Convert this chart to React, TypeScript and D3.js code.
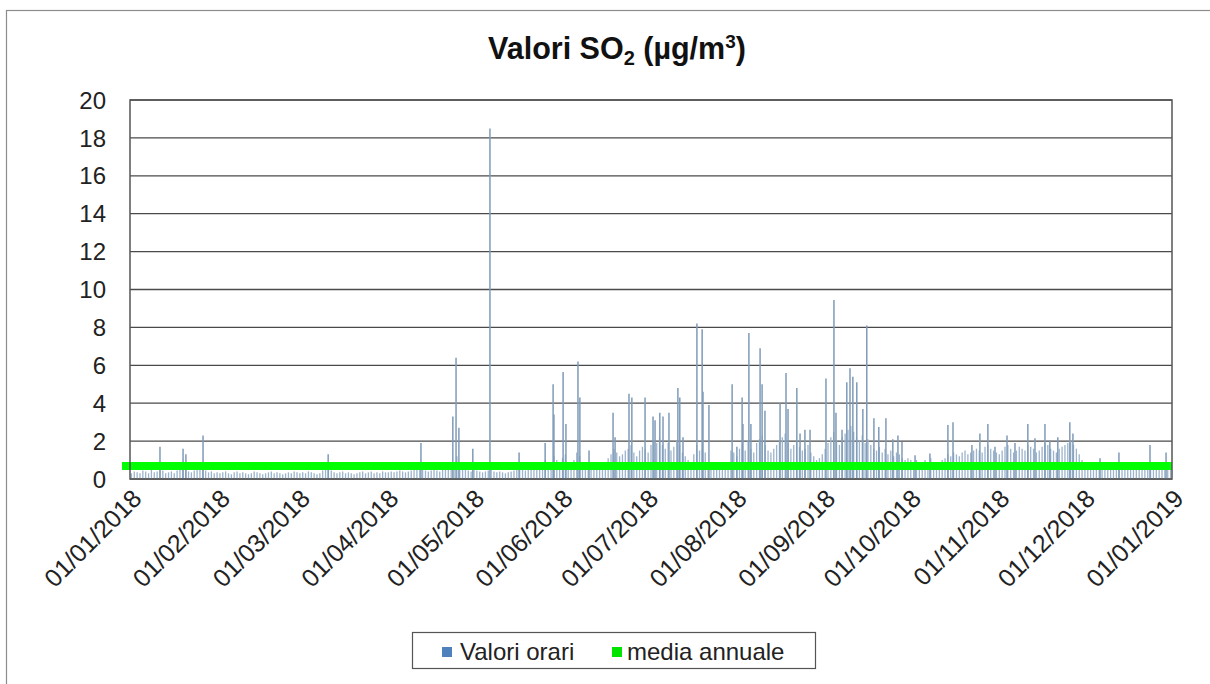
import React from "react";
import * as d3 from "d3";

// ---- data ----
const yTicks = [0, 2, 4, 6, 8, 10, 12, 14, 16, 18, 20];
const monthTicks = [
  "2018-01-01", "2018-02-01", "2018-03-01", "2018-04-01", "2018-05-01", "2018-06-01",
  "2018-07-01", "2018-08-01", "2018-09-01", "2018-10-01", "2018-11-01", "2018-12-01", "2019-01-01",
];
const annualMean = 0.68;

// typical daily level (µg/m³), one value per day
const jan = [0.3,0.4,0.35,0.3,0.45,0.4,0.3,0.5,0.35,0.4,0.6,0.45,0.3,0.35,0.4,0.3,0.45,0.5,0.7,0.55,0.4,0.35,0.45,0.6,0.5,0.7,0.45,0.35,0.4,0.3,0.35];
const feb = [0.3,0.35,0.4,0.3,0.25,0.35,0.4,0.3,0.35,0.3,0.25,0.3,0.4,0.35,0.3,0.25,0.3,0.35,0.4,0.3,0.35,0.3,0.25,0.3,0.35,0.3,0.4,0.35];
const mar = [0.3,0.35,0.3,0.4,0.35,0.3,0.25,0.3,0.45,0.5,0.6,0.45,0.35,0.3,0.35,0.4,0.3,0.35,0.3,0.25,0.3,0.35,0.4,0.3,0.35,0.4,0.3,0.35,0.3,0.4,0.35];
const apr = [0.35,0.4,0.35,0.4,0.45,0.4,0.35,0.4,0.45,0.5,0.6,0.8,0.5,0.45,0.4,0.45,0.5,0.45,0.4,0.5,0.55,0.6,0.7,0.9,1.2,0.8,0.6,0.5,0.45,0.4];
const may = [0.5,0.45,0.4,0.35,0.4,0.45,0.5,0.4,0.35,0.4,0.35,0.3,0.35,0.4,0.45,0.5,0.6,0.5,0.45,0.5,0.55,0.6,0.7,0.8,0.9,1.0,0.8,0.9,1.2,1.0,0.9];
const jun = [1.1,1.3,0.9,0.8,1.0,1.4,1.2,0.9,0.8,0.9,0.7,0.6,0.6,0.7,0.8,0.9,1.1,1.3,1.6,1.4,1.2,1.3,1.5,1.6,1.8,1.4,1.2,1.5,1.7,1.6];
const jul = [1.4,1.8,2.0,1.9,2.2,1.8,1.6,1.9,1.5,1.7,2.0,1.8,1.4,1.2,1.0,0.9,1.3,1.8,1.5,1.6,1.4,0.8,0.7,0.6,0.7,0.8,0.7,0.6,0.9,1.5,1.4];
const aug = [1.2,1.6,1.8,1.5,2.0,1.6,1.4,1.9,2.1,2.3,1.8,1.5,1.4,1.6,1.8,2.0,2.2,2.4,1.9,1.6,1.8,2.0,1.7,1.5,1.6,1.8,1.4,1.2,1.0,1.1,1.3];
const sep = [1.6,1.9,2.2,2.5,2.0,1.8,2.2,2.4,2.6,2.8,2.5,2.2,2.0,2.3,1.9,2.1,1.8,1.6,1.5,1.7,1.4,1.6,1.3,1.5,1.2,1.4,1.3,1.1,1.0,1.1];
const oct = [1.0,0.9,1.0,0.8,0.9,1.0,0.85,1.1,0.9,0.8,0.9,1.0,1.1,1.3,1.2,1.4,1.3,1.2,1.4,1.5,1.3,1.4,1.5,1.6,1.5,1.4,1.7,1.8,1.6,1.5,1.4];
const nov = [1.3,1.5,1.7,1.8,1.6,1.4,1.5,1.7,1.6,1.5,1.8,1.7,1.6,1.4,1.5,1.7,1.9,1.8,1.6,1.5,1.4,1.6,1.7,1.8,1.9,2.0,1.8,1.6,1.3,1.0];
const dec = [0.8,0.9,0.7,0.8,0.9,0.8,0.75,0.8,0.9,0.85,0.8,0.7,0.9,0.8,0.85,0.8,0.7,0.75,0.8,0.9,0.8,0.85,0.8,0.9,0.75,0.8,0.85,0.8,0.9,0.8,0.85];
const months = [jan, feb, mar, apr, may, jun, jul, aug, sep, oct, nov, dec];

// hourly peaks: day of year (fractional) and value
const peakDay = [10.5,18.6,19.6,25.6,69.4,101.9,113.1,114.2,115.2,120.1,126.1,136.3,145.4,148.2,148.5,151.7,152.7,156.9,157.6,160.8,
  169.2,169.9,174.8,175.8,180.4,183.2,183.9,185.6,186.7,188.8,191.9,192.6,193.7,198.6,200.4,200.7,202.8,210.9,212.6,214.4,
  214.7,216.8,217.5,220.7,221.4,222.4,227.7,229.8,230.5,233.6,234.7,236.4,238.2,243.8,246.6,247.3,249.4,251.1,252.2,253.2,
  254.6,256.7,258.1,260.6,262.3,264.8,267.2,269.0,270.4,275.0,280.2,286.5,288.3,294.9,297.7,300.5,303.0,307.2,310.0,314.5,
  317.0,320.5,322.2,325.0,329.2,330.3,339.8,346.4,357.3,362.9];
const peakValue = [1.7,1.6,1.3,2.3,1.3,1.9,3.3,6.4,2.7,1.6,18.5,1.4,1.9,5.0,3.4,5.65,2.9,6.2,4.3,1.5,
  3.5,2.2,4.5,4.3,4.3,3.3,3.1,3.5,3.3,3.5,4.8,4.3,2.2,8.2,7.9,4.6,3.9,5.0,1.7,4.3,
  2.9,7.7,2.9,6.9,5.0,3.6,4.0,5.6,3.7,4.8,2.4,2.6,2.6,5.3,9.45,3.5,2.6,5.1,5.85,5.4,
  5.1,3.7,8.1,3.2,2.75,3.2,2.1,2.3,1.95,1.25,1.35,2.85,3.0,1.8,2.4,2.9,1.7,2.3,1.9,2.9,
  2.15,2.9,2.05,2.2,3.0,2.4,1.1,1.4,1.8,1.4];

const legendItems = ["Valori orari", "media annuale"];

export default function App() {
  const W = 1210, H = 684;
  const left = 130, right = 1172, top = 100, bottom = 479;
  const start = new Date(2018, 0, 1);
  const x = d3.scaleTime().domain([start, new Date(2019, 0, 1)]).range([left, right]);
  const y = d3.scaleLinear().domain([0, 20]).range([bottom, top]);
  const dayDate = (d: number) => d3.timeHour.offset(start, Math.round(d * 24));
  const fmt = d3.timeFormat("%d/%m/%Y");
  const parse = d3.timeParse("%Y-%m-%d");

  const daily: { d: number; v: number }[] = [];
  let dayIdx = 0;
  months.forEach((m) => m.forEach((v) => { daily.push({ d: dayIdx + 0.5, v }); dayIdx++; }));
  const peaks = peakDay.map((d, i) => ({ d, v: peakValue[i] }));

  const font = "'Liberation Sans', Arial, sans-serif";
  const barColor = "#9bb3cc";

  return (
    <svg width={W} height={H} style={{ position: "absolute", left: 0, top: 0, background: "#fff" }} fontFamily={font}>
      <rect x={0} y={0} width={W} height={H} fill="#fff" />
      <rect x={6.5} y={10.5} width={W + 20} height={H + 20} fill="#fff" stroke="#8c8c8c" strokeWidth={1.2} />
      <text x={617} y={59} textAnchor="middle" fontSize={30.5} fontWeight="bold" fill="#111">
        Valori SO<tspan fontSize={20} dy={6}>2</tspan>
        <tspan dy={-6}> (µg/m</tspan>
        <tspan fontSize={19} dy={-11}>3</tspan>
        <tspan dy={11}>)</tspan>
      </text>

      {/* gridlines */}
      {yTicks.map((t) => (
        <line key={"g" + t} x1={left} x2={right} y1={y(t)} y2={y(t)} stroke="#4a4a4a" strokeWidth={1.3} />
      ))}

      {/* daily levels */}
      {daily.map((p, i) => (
        <line key={"d" + i} x1={x(dayDate(p.d))} x2={x(dayDate(p.d))} y1={y(0)} y2={y(p.v)} stroke={barColor} strokeWidth={1.3} />
      ))}
      {/* hourly peaks */}
      {peaks.map((p, i) => (
        <line key={"p" + i} x1={x(dayDate(p.d))} x2={x(dayDate(p.d))} y1={y(0)} y2={y(p.v)} stroke="#7f9bb8" strokeWidth={1.5} />
      ))}

      {/* annual mean */}
      <line x1={left - 8} x2={right} y1={y(annualMean)} y2={y(annualMean)} stroke="#00ff00" strokeWidth={8} />

      {/* plot frame */}
      <rect x={left} y={top} width={right - left} height={bottom - top} fill="none" stroke="#555" strokeWidth={1.5} />

      {/* y labels */}
      {yTicks.map((t) => (
        <text key={"y" + t} x={106} y={y(t)} dy="0.36em" textAnchor="end" fontSize={24} fill="#222">{t}</text>
      ))}

      {/* x labels */}
      {monthTicks.map((s) => {
        const xx = x(parse(s) as Date);
        return (
          <text key={s} transform={`translate(${xx + 7},${bottom + 15}) rotate(-45)`} textAnchor="end" fontSize={25} fill="#222" dy="0.35em">
            {fmt(parse(s) as Date)}
          </text>
        );
      })}

      {/* legend */}
      <rect x={412.5} y={632.5} width={403} height={36} fill="#fff" stroke="#555" strokeWidth={1.2} />
      <rect x={442} y={647} width={10} height={10} fill="#4f81bd" />
      <text x={460} y={652} dy="0.35em" fontSize={24} fill="#222">{legendItems[0]}</text>
      <rect x={612} y={647} width={10} height={10} fill="#00e400" />
      <text x={627} y={652} dy="0.35em" fontSize={24} fill="#222">{legendItems[1]}</text>
    </svg>
  );
}
